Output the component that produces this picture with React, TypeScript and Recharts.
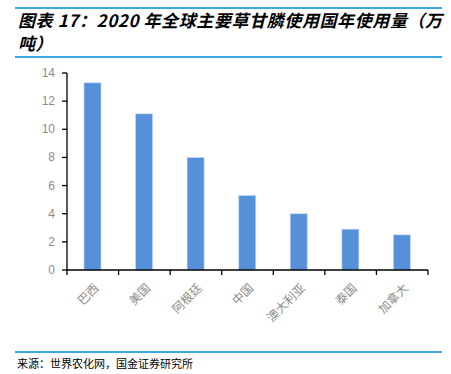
import React from 'react';
import { BarChart, Bar, XAxis, YAxis } from 'recharts';

const countries = ['巴西', '美国', '阿根廷', '中国', '澳大利亚', '泰国', '加拿大'];
const usage = [13.3, 11.1, 8.0, 5.3, 4.0, 2.9, 2.5];
const yTicks = [0, 2, 4, 6, 8, 10, 12, 14];

const data = countries.map((name, i) => ({ name, value: usage[i] }));

const cjk = '"Noto Sans CJK SC", "Liberation Sans", sans-serif';

const W = 451;
const H = 374;
const M = { top: 73, right: 23, left: 0, bottom: 0 };
const Y_W = 67;
const band = (W - M.right - M.left - Y_W) / countries.length;

// category tick: label rotated -45, tick marks at category boundaries
const XTick = (props: any) => {
  const { x, y, payload, index } = props;
  const last = index === countries.length - 1;
  return (
    <g>
      <line x1={x - band / 2} x2={x - band / 2} y1={y - 8} y2={y - 3} stroke="#000" strokeWidth={1.3} />
      {last && <line x1={x + band / 2} x2={x + band / 2} y1={y - 8} y2={y - 3} stroke="#000" strokeWidth={1.3} />}
      <g transform={`translate(${x + 4},${y + 8})`}>
        <text textAnchor="end" transform="rotate(-45)" fontSize={12} fill="#8c8c8c" fontFamily={cjk} dy={4}>
          {payload.value}
        </text>
      </g>
    </g>
  );
};

const YTick = (props: any) => {
  const { x, y, payload } = props;
  return (
    <g>
      <line x1={x + 5} x2={x + 10} y1={y} y2={y} stroke="#000" strokeWidth={1.3} />
      <text
        x={x - 2}
        y={y}
        dy={4}
        textAnchor="end"
        fontSize={12}
        fill="#8c8c8c"
        fontFamily='"Liberation Sans", Arial, sans-serif'
      >
        {payload.value}
      </text>
    </g>
  );
};

const titleStyle: React.CSSProperties = {
  position: 'absolute',
  left: 18,
  fontFamily: cjk,
  fontStyle: 'italic',
  fontWeight: 'bold',
  fontSize: 17,
  letterSpacing: 0.6,
  lineHeight: '18px',
  color: '#000',
  whiteSpace: 'nowrap',
};

const App: React.FC = () => {
  return (
    <div style={{ position: 'absolute', left: 0, top: 0, width: W, height: H, background: '#fff' }}>
      <div style={{ position: 'absolute', left: 15, top: 7, width: 427, height: 2, background: '#3aa8e0' }} />
      <div style={{ ...titleStyle, top: 11 }}>图表 17：2020 年全球主要草甘膦使用国年使用量（万</div>
      <div style={{ ...titleStyle, top: 34 }}>吨）</div>
      <div style={{ position: 'absolute', left: 15, top: 56, width: 427, height: 2, background: '#3aa8e0' }} />

      <div style={{ position: 'absolute', left: 0, top: 0 }}>
        <BarChart width={W} height={H} data={data} margin={M} barSize={17}>
          <XAxis
            dataKey="name"
            axisLine={{ stroke: '#000', strokeWidth: 1.3 }}
            tickLine={false}
            tick={<XTick />}
            interval={0}
            height={104}
          />
          <YAxis
            domain={[0, 14]}
            ticks={yTicks}
            width={Y_W}
            axisLine={{ stroke: '#000', strokeWidth: 1.3 }}
            tickLine={false}
            tickSize={0}
            tickMargin={10}
            tick={<YTick />}
          />
          <Bar dataKey="value" fill="#5590d8" stroke="#c9dcf2" strokeWidth={0.6} isAnimationActive={false} />
        </BarChart>
      </div>

      <div style={{ position: 'absolute', left: 15, top: 351, width: 427, height: 2, background: '#3aa8e0' }} />
      <div
        style={{
          position: 'absolute',
          left: 17,
          top: 355,
          fontFamily: cjk,
          fontSize: 11,
          lineHeight: '16px',
          color: '#000',
        }}
      >
        来源：世界农化网，国金证券研究所
      </div>
    </div>
  );
};

export default App;
